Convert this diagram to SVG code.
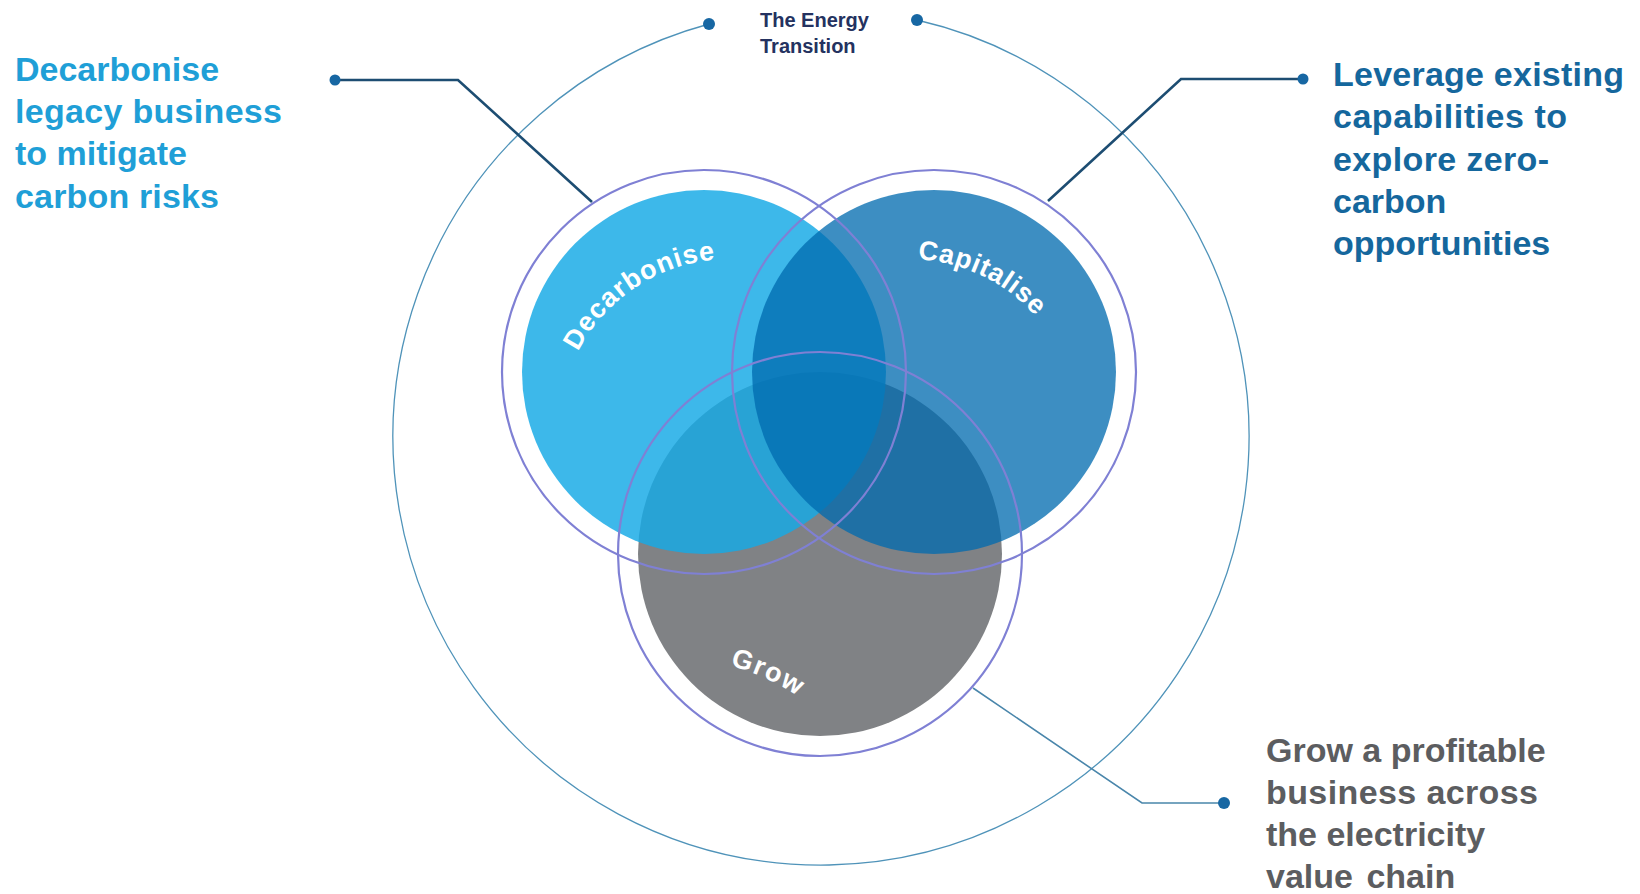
<svg xmlns="http://www.w3.org/2000/svg" xmlns:xlink="http://www.w3.org/1999/xlink" width="1640" height="894" viewBox="0 0 1640 894">
  <defs>
    <style>
      .ring { fill: none; stroke: #7f80d4; stroke-width: 2.2; }
      .lbl { font-family: "Liberation Sans", Arial, sans-serif; font-weight: bold; font-size: 34px; }
      .left { fill: #1f9fd7; }
      .right { fill: #15679d; }
      .grey { fill: #5c5d60; }
      .arc { font-family: "Liberation Sans", Arial, sans-serif; font-weight: bold; font-size: 27px; fill: #ffffff; }
      .title { font-family: "Liberation Sans", Arial, sans-serif; font-weight: bold; font-size: 20px; fill: #243260; }
      .dot { fill: #1767a3; }
      .lead { fill: none; stroke: #1d4d72; stroke-width: 2.6; }
      .lead2 { fill: none; stroke: #4a86ab; stroke-width: 1.6; }
    </style>
    <path id="pDec" d="M 559 430 A 171 171 0 0 1 815.5 281.9"/>
    <path id="pCap" d="M 737 430 A 171 171 0 0 1 1079 430"/>
    <path id="pGrow" d="M 533.5 690.2 A 255 255 0 0 1 912.1 866.7"/>
  </defs>
  <rect width="1640" height="894" fill="#ffffff"/>

  <g id="energy-transition">
    <path d="M 917 20 A 428 428 0 1 1 709 24" fill="none" stroke="#4f93b9" stroke-width="1.3"/>
    <circle class="dot" cx="709" cy="24" r="6"/>
    <circle class="dot" cx="917" cy="20" r="6"/>
    <text class="title" x="760" y="27">The Energy</text>
    <text class="title" x="760" y="53">Transition</text>
  </g>

  <g id="connectors">
    <polyline class="lead" points="335,80 458,80 592,202"/>
    <circle class="dot" cx="335" cy="80" r="5.5"/>
    <polyline class="lead" points="1303,79 1181,79 1048,201"/>
    <circle class="dot" cx="1303" cy="79" r="5.5"/>
    <polyline class="lead2" points="973,688 1142,803 1224,803"/>
    <circle class="dot" cx="1224" cy="803" r="6"/>
  </g>

  <g id="grow">
    <circle cx="820" cy="554" r="182" fill="#808285"/>
  </g>
  <g id="decarbonise">
    <circle cx="704" cy="372" r="182" fill="#16aae6" fill-opacity="0.83"/>
  </g>
  <g id="capitalise">
    <circle cx="934" cy="372" r="182" fill="#006aaf" fill-opacity="0.76"/>
  </g>
  <g id="rings">
    <circle class="ring" cx="704" cy="372" r="202"/>
    <circle class="ring" cx="934" cy="372" r="202"/>
    <circle class="ring" cx="820" cy="554" r="202"/>
  </g>
  <g id="circle-labels">
    <text class="arc"><textPath xlink:href="#pDec" href="#pDec" startOffset="167.4" text-anchor="middle" textLength="172" lengthAdjust="spacing">Decarbonise</textPath></text>
    <text class="arc"><textPath xlink:href="#pCap" href="#pCap" startOffset="345.3" text-anchor="middle" textLength="134" lengthAdjust="spacing">Capitalise</textPath></text>
    <text class="arc"><textPath xlink:href="#pGrow" href="#pGrow" startOffset="240.3" text-anchor="middle" textLength="74" lengthAdjust="spacing">Grow</textPath></text>
  </g>

  <g id="text-decarbonise">
    <text class="lbl left" x="15" y="81">Decarbonise</text>
    <text class="lbl left" x="15" y="123" textLength="267" lengthAdjust="spacing">legacy business</text>
    <text class="lbl left" x="15" y="165">to mitigate</text>
    <text class="lbl left" x="15" y="208" textLength="204" lengthAdjust="spacing">carbon risks</text>
  </g>
  <g id="text-capitalise">
    <text class="lbl right" x="1333" y="86" textLength="291" lengthAdjust="spacing">Leverage existing</text>
    <text class="lbl right" x="1333" y="128" textLength="234" lengthAdjust="spacing">capabilities to</text>
    <text class="lbl right" x="1333" y="171" textLength="216" lengthAdjust="spacing">explore zero-</text>
    <text class="lbl right" x="1333" y="213">carbon</text>
    <text class="lbl right" x="1333" y="255">opportunities</text>
  </g>
  <g id="text-grow">
    <text class="lbl grey" x="1266" y="762">Grow a profitable</text>
    <text class="lbl grey" x="1266" y="804" textLength="272" lengthAdjust="spacing">business across</text>
    <text class="lbl grey" x="1266" y="846">the electricity</text>
    <text class="lbl grey" x="1266" y="888" word-spacing="4">value chain</text>
  </g>
</svg>
